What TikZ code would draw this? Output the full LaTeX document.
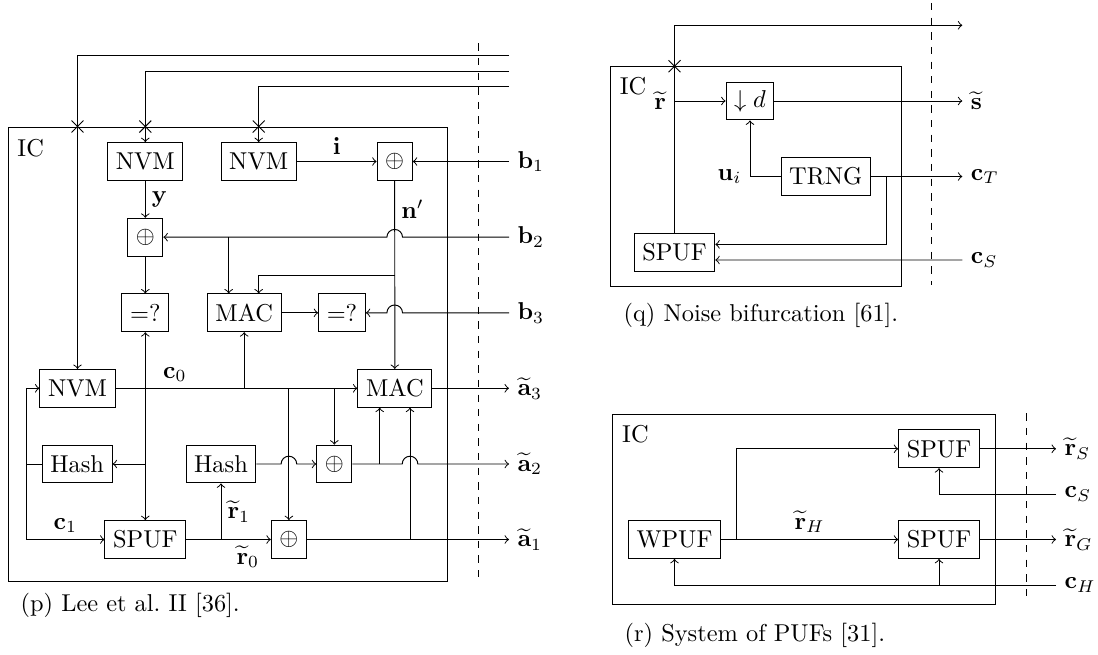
\documentclass[tikz,border=0pt]{standalone}
\usepackage{amsmath,amssymb}
\usepackage{tikz}
\usetikzlibrary{positioning,fit,calc,shapes.misc}

\begin{document}
\begin{tikzpicture}[
  x=0.41pt, y=-0.41pt,
  box/.style={draw, minimum height=15.5pt, inner sep=3.33pt},
  icframe/.style={draw, inner sep=0pt},
  tag/.style={inner sep=2.5pt},
  port/.style={anchor=west, inner sep=3.3pt},
  xmark/.style={draw, cross out, minimum size=4.5pt, inner sep=0pt},
  divider/.style={dashed}
]
\useasboundingbox (0,0) rectangle (1098,654);

% (p) Lee et al. II.
\node[icframe, fit={(8.3,127) (447.7,581)}] (icP) {};
\node[anchor=north west, inner sep=0pt] (icPtag) at (17,138.5) {IC};

\node[box] (nvmA) at (145.3,161.5) {NVM};
\node[box] (nvmB) at (258.7,161.5) {NVM};
\node[box] (xorA) at (394.7,161.5) {$\oplus$};
\node[box] (xorB) at (145.3,237.2) {$\oplus$};
\node[box] (eqA) at (145.3,312.8) {=?};
\node[box] (macA) at (244.2,312.8) {MAC};
\node[box] (eqB) at (342,312.8) {=?};
\node[box] (nvmC) at (77.5,388.3) {NVM};
\node[box] (macB) at (394.8,388.3) {MAC};
\node[box] (hashA) at (77.2,464) {Hash};
\node[box] (hashB) at (221,464) {Hash};
\node[box] (xorD) at (334.3,464) {$\oplus$};
\node[box] (spufA) at (145.3,539.5) {SPUF};
\node[box] (xorC) at (288.9,539.5) {$\oplus$};

\node[port] (bA) at (509,161.5) {$\mathbf{b}_1$};
\node[port] (bB) at (509,237.2) {$\mathbf{b}_2$};
\node[port] (bC) at (509,312.8) {$\mathbf{b}_3$};
\node[port] (aC) at (509,388.3) {$\widetilde{\mathbf{a}}_3$};
\node[port] (aB) at (509,464) {$\widetilde{\mathbf{a}}_2$};
\node[port] (aA) at (509,539.5) {$\widetilde{\mathbf{a}}_1$};
\coordinate (inA) at (509,55.3);
\coordinate (inB) at (509,71);
\coordinate (inC) at (509,86);

\draw[divider] (478.3,43.3) -- (478.3,576.7);

% Inputs from above, crossing the chip boundary.
\draw[->] (inA) -| (nvmC);
\draw[->] (inB) -| (nvmA);
\draw[->] (inC) -| (nvmB);
\node[xmark] (xA) at (nvmC |- icP.north) {};
\node[xmark] (xB) at (nvmA |- icP.north) {};
\node[xmark] (xC) at (nvmB |- icP.north) {};

\draw[->] (nvmB) -- node[tag, above] {$\mathbf{i}$} (xorA);
\draw[->] (bA) -- (xorA);
\draw[->] (nvmA) -- node[tag, right] {$\mathbf{y}$} (xorB);
\draw[->] (xorB) -- (eqA);
\draw[->] (xorA) -- node[tag, right, pos=0.15] {$\mathbf{n}'$} (macB);

\draw[->] (bB) -- ([xshift=3.2pt]xorA |- bB)
  arc[start angle=0, end angle=180, radius=3.2pt] -- (xorB);
\coordinate (brB) at (228.7,237.2);
\draw[->] (brB) -- (brB |- macA.north);
\coordinate (brN) at (394.7,275);
\draw[->] (brN) -| (nvmB |- macA.north);

\draw[->] (macA) -- (eqB);
\draw[->] (bC) -- ([xshift=3.2pt]xorA |- bC)
  arc[start angle=0, end angle=180, radius=3.2pt] -- (eqB);

\draw[->] (nvmC) -- node[tag, above, pos=0.245] {$\mathbf{c}_0$} (macB);
\draw[->] (macA |- nvmC) -- (macA);
\draw[->] (xorC |- nvmC) -- (xorC);
\draw[->] (xorD |- nvmC) -- (xorD);

\draw[<->] (eqA) -- (spufA);
\draw[->] (spufA |- hashA) -- (hashA);

\coordinate (loopL) at (26,464);
\draw (hashA) -- (loopL);
\draw[->] (loopL) |- (nvmC);
\draw[->] (loopL) |- node[tag, above, pos=0.75] {$\mathbf{c}_1$} (spufA);

\draw[->] (spufA) -- node[tag, below, pos=0.73] {$\widetilde{\mathbf{r}}_0$} (xorC);
\draw[->] (hashB |- spufA) -- node[tag, right] {$\widetilde{\mathbf{r}}_1$} (hashB);

\draw[->] (hashB) -- ([xshift=-3.2pt]xorC |- hashB)
  arc[start angle=180, end angle=0, radius=3.2pt] -- (xorD);
\coordinate (brM) at (410,539.5);
\coordinate (brX) at (379.7,464);
\draw[->] (xorD) -- ([xshift=-3.2pt]brM |- xorD)
  arc[start angle=180, end angle=0, radius=3.2pt] -- (aB);
\draw[->] (brX) -- (brX |- macB.south);
\draw[->] (xorC) -- (aA);
\draw[->] (brM) -- (brM |- macB.south);
\draw[->] (macB) -- (aC);

\node[anchor=west] (capP) at (12,605) {(p) Lee et al.\ II [36].};

% (q) Noise bifurcation.
\node[icframe, fit={(610.7,66.7) (901.3,286.7)}] (icQ) {};
\node[anchor=north west, inner sep=0pt] (icQtag) at (619.3,77) {IC};

\node[box] (dnd) at (750,101) {$\downarrow d$};
\node[box] (trng) at (825.7,176.5) {TRNG};
\node[box] (spufQ) at (674.5,252.2) {SPUF};
\node[port] (sOut) at (962.3,101) {$\widetilde{\mathbf{s}}$};
\node[port] (cT) at (962.3,176.5) {$\mathbf{c}_T$};
\node[port] (cSq) at (962.3,260) {$\mathbf{c}_S$};
\coordinate (outR) at (962.3,25.3);

\draw[divider] (931.7,3) -- (931.7,285);

\draw[->] (spufQ) |- (outR);
\node[xmark] (xQ) at (spufQ |- icQ.north) {};
\node[left] (rQ) at (spufQ |- dnd) {$\widetilde{\mathbf{r}}$};
\draw[->] (spufQ |- dnd) -- (dnd);
\draw[->] (dnd) -- (sOut);
\draw[->] (trng) -| (dnd);
\node[left] (ui) at (dnd |- trng) {$\mathbf{u}_i$};
\draw[->] (trng) -- (cT);
\coordinate (brT) at (886.3,176.5);
\draw[->] (brT) |- ([yshift=3.2pt]spufQ.east);
\draw[->] (cSq) -- ([yshift=-3.2pt]spufQ.east);

\node[anchor=west] (capQ) at (615,315) {(q) Noise bifurcation [61].};

% (r) System of PUFs.
\node[icframe, fit={(612.3,414) (995.3,604)}] (icR) {};
\node[anchor=north west, inner sep=0pt] (icRtag) at (621.7,425) {IC};

\node[box] (wpuf) at (674.5,539.5) {WPUF};
\node[box] (spufS) at (939,448.8) {SPUF};
\node[box] (spufG) at (939,539.5) {SPUF};
\node[port] (rS) at (1056,448.8) {$\widetilde{\mathbf{r}}_S$};
\node[port] (cSr) at (1056,494.3) {$\mathbf{c}_S$};
\node[port] (rG) at (1056,539.5) {$\widetilde{\mathbf{r}}_G$};
\node[port] (cH) at (1056,585) {$\mathbf{c}_H$};

\draw[divider] (1026,413.3) -- (1026,596);

\draw[->] (wpuf) -- node[tag, above] {$\widetilde{\mathbf{r}}_H$} (spufG);
\coordinate (brW) at (736.7,539.5);
\draw[->] (brW) |- (spufS);
\draw[->] (spufS) -- (rS);
\draw[->] (spufG) -- (rG);
\draw[->] (cSr) -| (spufS);
\draw[->] (cH) -| (wpuf);
\draw[->] (spufG |- cH) -- (spufG);

\node[anchor=west] (capR) at (616,635) {(r) System of PUFs [31].};

\end{tikzpicture}
\end{document}
